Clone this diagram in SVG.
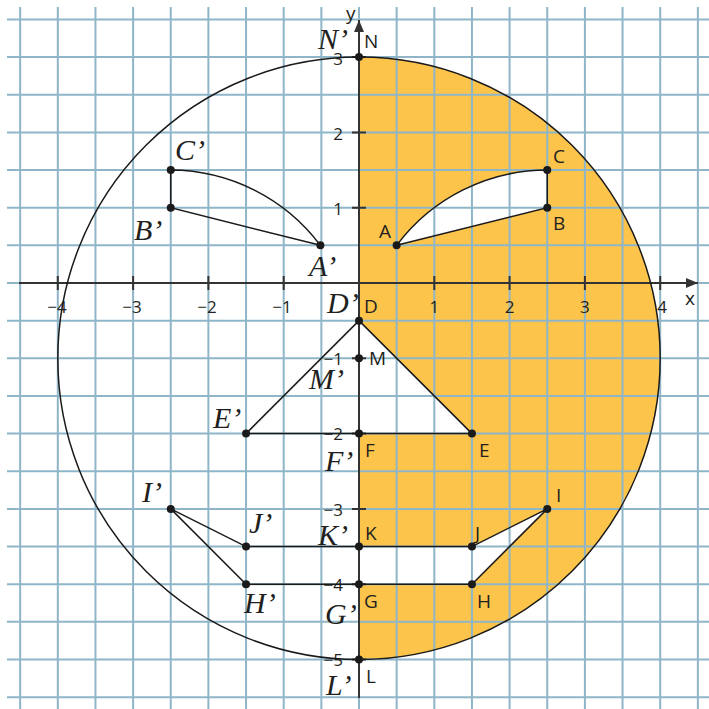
<svg xmlns="http://www.w3.org/2000/svg" width="709" height="709" viewBox="0 0 709 709">
<style>
.grid{stroke:#8eb6c8;stroke-width:2;fill:none}
.axis{stroke:#333;stroke-width:2;fill:none}
.ln{stroke:#1a1a1a;stroke-width:1.5;fill:none}
.dot{fill:#1a1a1a}
.lbl{font-family:"Open Sans","Liberation Sans",sans-serif;font-size:19px;fill:#231f20}
.num{font-family:"Open Sans","Liberation Sans",sans-serif;font-size:17px;fill:#231f20}
.scr{font-family:"Liberation Serif",serif;font-style:italic;font-size:30px;fill:#231f20}
</style>
<defs>
<marker id="arr" markerWidth="12" markerHeight="10" refX="12" refY="5" orient="auto" markerUnits="userSpaceOnUse">
<path d="M0,0 L12,5 L0,10 Z" fill="#333"/>
</marker>
</defs>
<rect width="709" height="709" fill="#fff"/>
<path id="shade" fill="#fcc44b" fill-rule="evenodd" d="M359 57.1 A301.2 301.2 0 0 1 359 659.5 Z M396.65 245.35 L547.25 207.7 L547.25 170.05 A188.25 188.25 0 0 0 396.65 245.35 Z M359 320.65 L471.95 433.6 L359 433.6 Z M359 546.55 L471.95 546.55 L547.25 508.9 L471.95 584.2 L359 584.2 Z"/>
<g id="grid" class="grid">
<path d="M20.15 7V709M57.8 7V709M95.45 7V709M133.1 7V709M170.75 7V709M208.4 7V709M246.05 7V709M283.7 7V709M321.35 7V709M359 7V709M396.65 7V709M434.3 7V709M471.95 7V709M509.6 7V709M547.25 7V709M584.9 7V709M622.55 7V709M660.2 7V709M697.85 7V709"/>
<path d="M7 19.45H709M7 57.1H709M7 94.75H709M7 132.4H709M7 170.05H709M7 207.7H709M7 245.35H709M7 283H709M7 320.65H709M7 358.3H709M7 395.95H709M7 433.6H709M7 471.25H709M7 508.9H709M7 546.55H709M7 584.2H709M7 621.85H709M7 659.5H709M7 697.15H709"/>
</g>
<g id="axes">
<line class="axis" x1="19" y1="283" x2="698" y2="283" marker-end="url(#arr)"/>
<line class="axis" x1="359" y1="698" x2="359" y2="20" marker-end="url(#arr)"/>
<path class="axis" d="M57.8 276V290M133.1 276V290M208.4 276V290M283.7 276V290M434.3 276V290M509.6 276V290M584.9 276V290M660.2 276V290M352 57.1H366M352 132.4H366M352 207.7H366M352 358.3H366M352 433.6H366M352 508.9H366M352 584.2H366M352 659.5H366"/>
<g class="num" text-anchor="middle">
<text x="57" y="313">−4</text>
<text x="132" y="313">−3</text>
<text x="207" y="313">−2</text>
<text x="282" y="313">−1</text>
<text x="434.3" y="313">1</text>
<text x="509.6" y="313">2</text>
<text x="584.9" y="313">3</text>
<text x="662" y="313">4</text>
</g>
<g class="num" text-anchor="end">
<text x="343" y="65">3</text>
<text x="343" y="140">2</text>
<text x="343" y="215">1</text>
<text x="343" y="365">−1</text>
<text x="343" y="440">−2</text>
<text x="343" y="516">−3</text>
<text x="343" y="591">−4</text>
<text x="343" y="666">−5</text>
</g>
<text class="lbl" x="685" y="305">x</text>
<text class="lbl" x="346" y="20">y</text>
</g>
<g id="connectors" class="ln">
<circle cx="359" cy="358.3" r="301.2"/>
<path d="M396.65 245.35 L547.25 207.7 L547.25 170.05 A188.25 188.25 0 0 0 396.65 245.35"/>
<path d="M320.35 245.35 L170.75 207.7 L170.75 170.05 A188.25 188.25 0 0 1 320.35 245.35"/>
<path d="M359 320.65 L471.95 433.6 L359 433.6"/>
<path d="M359 320.65 L246.05 433.6 L359 433.6"/>
<path d="M359 546.55 L471.95 546.55 L547.25 508.9 L471.95 584.2 L359 584.2"/>
<path d="M359 546.55 L246.05 546.55 L170.75 508.9 L246.05 584.2 L359 584.2"/>
</g>
<g id="points" class="dot">
<circle cx="359" cy="57.1" r="4"/>
<circle cx="396.65" cy="245.35" r="4"/>
<circle cx="547.25" cy="207.7" r="4"/>
<circle cx="547.25" cy="170.05" r="4"/>
<circle cx="320.35" cy="245.35" r="4"/>
<circle cx="170.75" cy="207.7" r="4"/>
<circle cx="170.75" cy="170.05" r="4"/>
<circle cx="359" cy="320.65" r="4"/>
<circle cx="359" cy="358.3" r="4"/>
<circle cx="359" cy="433.6" r="4"/>
<circle cx="471.95" cy="433.6" r="4"/>
<circle cx="246.05" cy="433.6" r="4"/>
<circle cx="547.25" cy="508.9" r="4"/>
<circle cx="471.95" cy="546.55" r="4"/>
<circle cx="471.95" cy="584.2" r="4"/>
<circle cx="359" cy="546.55" r="4"/>
<circle cx="359" cy="584.2" r="4"/>
<circle cx="359" cy="659.5" r="4"/>
<circle cx="170.75" cy="508.9" r="4"/>
<circle cx="246.05" cy="546.55" r="4"/>
<circle cx="246.05" cy="584.2" r="4"/>
</g>
<g id="labels" class="lbl">
<text x="364" y="48">N</text>
<text x="379" y="238">A</text>
<text x="553" y="230">B</text>
<text x="553" y="163">C</text>
<text x="364" y="313">D</text>
<text x="369" y="365">M</text>
<text x="479" y="457">E</text>
<text x="365" y="457">F</text>
<text x="556" y="502">I</text>
<text x="475" y="540">J</text>
<text x="365" y="540">K</text>
<text x="364" y="608">G</text>
<text x="477" y="608">H</text>
<text x="366" y="683">L</text>
</g>
<g id="primes" class="scr">
<text x="318" y="49">N’</text>
<text x="175" y="160">C’</text>
<text x="134" y="240">B’</text>
<text x="309" y="276">A’</text>
<text x="327" y="313">D’</text>
<text x="309" y="389">M’</text>
<text x="213" y="428">E’</text>
<text x="325" y="471">F’</text>
<text x="142" y="502">I’</text>
<text x="249" y="533">J’</text>
<text x="318" y="545">K’</text>
<text x="244" y="613">H’</text>
<text x="325" y="624">G’</text>
<text x="326" y="695">L’</text>
</g>
</svg>
